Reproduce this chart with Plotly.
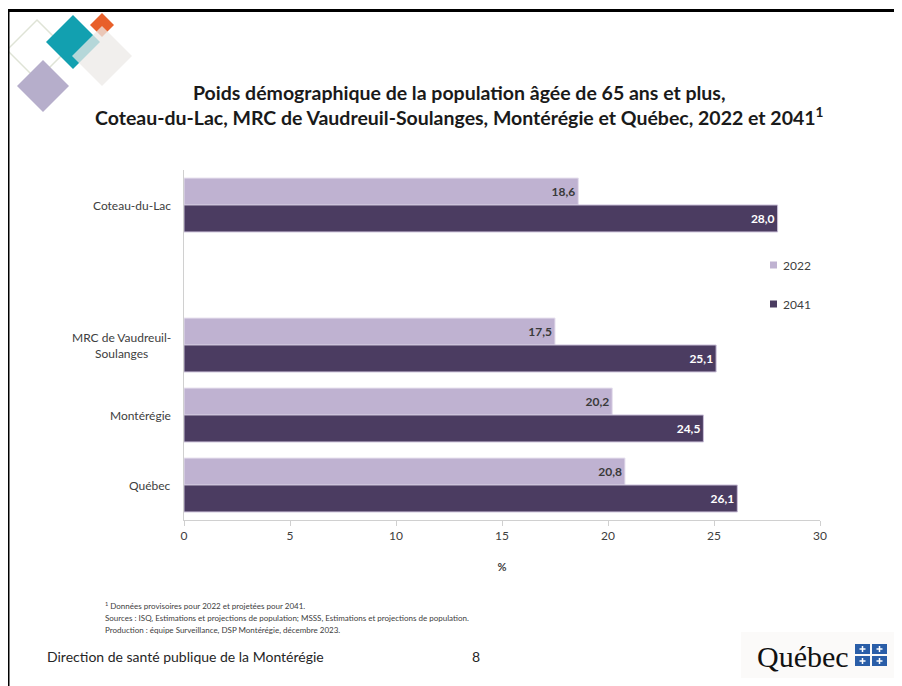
import plotly.graph_objects as go

# ---------------- data ----------------
categories = ["Coteau-du-Lac", "MRC de Vaudreuil-<br>Soulanges", "Montérégie", "Québec"]
axis_order = ["Coteau-du-Lac", " ", "MRC de Vaudreuil-<br>Soulanges", "Montérégie", "Québec"]
years = ["2022", "2041"]
values_2022 = [18.6, 17.5, 20.2, 20.8]
values_2041 = [28.0, 25.1, 24.5, 26.1]
x_ticks = [0, 5, 10, 15, 20, 25, 30]

title_lines = [
    "Poids démographique de la population âgée de 65 ans et plus,",
    "Coteau-du-Lac, MRC de Vaudreuil-Soulanges, Montérégie et Québec, 2022 et 2041<sup>1</sup>",
]
notes = [
    "<sup>1</sup> Données provisoires pour 2022 et projetées pour 2041.",
    "Sources : ISQ, Estimations et projections de population; MSSS, Estimations et projections de population.",
    "Production : équipe Surveillance, DSP Montérégie, décembre 2023.",
]
footer = "Direction de santé publique de la Montérégie"
page_no = "8"
logo_text = "Québec"

# ---------------- style ----------------
FONT = "Lato"
C_LIGHT = "#bfb2d1"
C_DARK = "#4b3c61"
OFF = 8  # page body margin
W, H = 902 - OFF, 686 - OFF
ML, MR, MT, MB = 184 - OFF, 82, 170 - OFF, 166
PW, PH = W - ML - MR, H - MT - MB


def px(x):  # screenshot x -> paper
    return (x - OFF - ML) / PW


def py(y):  # screenshot y -> paper
    return (H - MB - (y - OFF)) / PH


fig = go.Figure()
fig.add_trace(go.Bar(
    y=categories, x=values_2022, name=years[0], orientation="h",
    marker=dict(color=C_LIGHT, line=dict(color="#e6e0ee", width=1)),
    texttemplate="<b>%{x:.1f}</b>", textposition="inside", insidetextanchor="end",
    textfont=dict(color="#3a3a3a", size=12, family=FONT), showlegend=False,
))
fig.add_trace(go.Bar(
    y=categories, x=values_2041, name=years[1], orientation="h",
    marker=dict(color=C_DARK, line=dict(color="#c9bfd8", width=1)),
    texttemplate="<b>%{x:.1f}</b>", textposition="inside", insidetextanchor="end",
    textfont=dict(color="white", size=12, family=FONT), showlegend=False,
))

shapes = []
annotations = []

# category labels (centered multi-line, right anchored)
for c in categories:
    annotations.append(dict(
        xref="paper", yref="y", x=0, y=c, xshift=-11, xanchor="right",
        text=c, align="center", showarrow=False,
        font=dict(family=FONT, size=12, color="#404040"),
    ))

# title
annotations.append(dict(
    xref="paper", yref="paper", x=px(459), y=py(105), xanchor="center", yanchor="middle",
    text="<b>" + title_lines[0] + "<br>" + title_lines[1] + "</b>", showarrow=False,
    align="center", font=dict(family=FONT, size=19.5, color="#1a1a1a"),
))

# legend (manual)
for i, (yr, col) in enumerate(zip(years, [C_LIGHT, C_DARK])):
    yc = 265 + i * 39
    shapes.append(dict(type="rect", xref="paper", yref="paper",
                       x0=px(770), x1=px(777), y0=py(yc - 3.5), y1=py(yc + 3.5),
                       fillcolor=col, line=dict(width=0)))
    annotations.append(dict(xref="paper", yref="paper", x=px(781), y=py(yc),
                            xanchor="left", yanchor="middle", text=yr, showarrow=False,
                            font=dict(family=FONT, size=12, color="#404040")))

# notes
for i, n in enumerate(notes):
    annotations.append(dict(xref="paper", yref="paper", x=px(103), y=py(605 + i * 12.5),
                            xanchor="left", yanchor="middle", text=n, showarrow=False,
                            font=dict(family=FONT, size=8, color="#404040")))

# footer
annotations.append(dict(xref="paper", yref="paper", x=px(45), y=py(656), xanchor="left",
                        yanchor="middle", text=footer, showarrow=False,
                        font=dict(family=FONT, size=14, color="#262626")))
annotations.append(dict(xref="paper", yref="paper", x=px(476), y=py(656), xanchor="center",
                        yanchor="middle", text=page_no, showarrow=False,
                        font=dict(family=FONT, size=14, color="#262626")))

# Québec logo
shapes.append(dict(type="rect", xref="paper", yref="paper", x0=px(741), x1=px(898),
                   y0=py(632), y1=py(678), fillcolor="#fbfaf9", line=dict(width=0), layer="below"))
annotations.append(dict(xref="paper", yref="paper", x=px(851), y=py(656), xanchor="right",
                        yanchor="middle", text=logo_text, showarrow=False,
                        font=dict(family="Liberation Serif", size=30, color="#111111")))
for (fx, fy) in [(855, 644), (872, 644), (855, 656), (872, 656)]:
    shapes.append(dict(type="rect", xref="paper", yref="paper", x0=px(fx), x1=px(fx + 15),
                       y0=py(fy), y1=py(fy + 10), fillcolor="#2a5ea8", line=dict(width=0)))
    cx, cy = fx + 7.5, fy + 5
    shapes.append(dict(type="line", xref="paper", yref="paper", x0=px(cx - 3), x1=px(cx + 3),
                       y0=py(cy), y1=py(cy), line=dict(color="white", width=1.5)))
    shapes.append(dict(type="line", xref="paper", yref="paper", x0=px(cx), x1=px(cx),
                       y0=py(cy - 3), y1=py(cy + 3), line=dict(color="white", width=1.5)))


# decorative diamonds (top-left)
def diamond(cx, cy, r, fill, opacity=1.0, line=None):
    path = "M {} {} L {} {} L {} {} L {} {} Z".format(
        px(cx), py(cy - r), px(cx + r), py(cy), px(cx), py(cy + r), px(cx - r), py(cy))
    return dict(type="path", xref="paper", yref="paper", path=path, fillcolor=fill,
                opacity=opacity, line=line or dict(width=0))


shapes.append(diamond(37, 50, 30, "rgba(0,0,0,0)", line=dict(color="#dfe3d6", width=1.5)))
shapes.append(diamond(43, 86, 26, "#b6aecb"))
shapes.append(diamond(102, 25, 12, "#e8602a"))
shapes.append(diamond(73, 42, 27, "#12a0b0"))
shapes.append(diamond(102, 56, 30, "#ece9e7", opacity=0.75))

# slide border
shapes.append(dict(type="rect", xref="paper", yref="paper", x0=px(6), x1=px(905),
                   y0=py(9), y1=py(12), fillcolor="black", line=dict(width=0)))
shapes.append(dict(type="rect", xref="paper", yref="paper", x0=px(6), x1=px(9.5),
                   y0=py(9), y1=py(690), fillcolor="black", line=dict(width=0)))

fig.update_layout(
    width=W, height=H,
    margin=dict(l=ML, r=MR, t=MT, b=MB),
    paper_bgcolor="white", plot_bgcolor="white",
    barmode="group", bargap=0.23, bargroupgap=0,
    separators=", ",
    font=dict(family=FONT, color="#404040"),
    shapes=shapes, annotations=annotations,
    xaxis=dict(range=[0, 30], tickvals=x_ticks, showgrid=False, zeroline=False,
               showline=True, linecolor="#d0d0d0", linewidth=1,
               ticks="outside", ticklen=5, tickcolor="#d0d0d0",
               tickfont=dict(size=12, color="#404040", family=FONT),
               title=dict(text="<b>%</b>", font=dict(size=11, color="#404040", family=FONT), standoff=20)),
    yaxis=dict(type="category", categoryorder="array", categoryarray=axis_order,
               range=[len(axis_order) - 0.5, -0.5], showticklabels=False, showgrid=False,
               zeroline=False, showline=True, linecolor="#d0d0d0", linewidth=1, ticks=""),
)

fig.write_html("out.html")
